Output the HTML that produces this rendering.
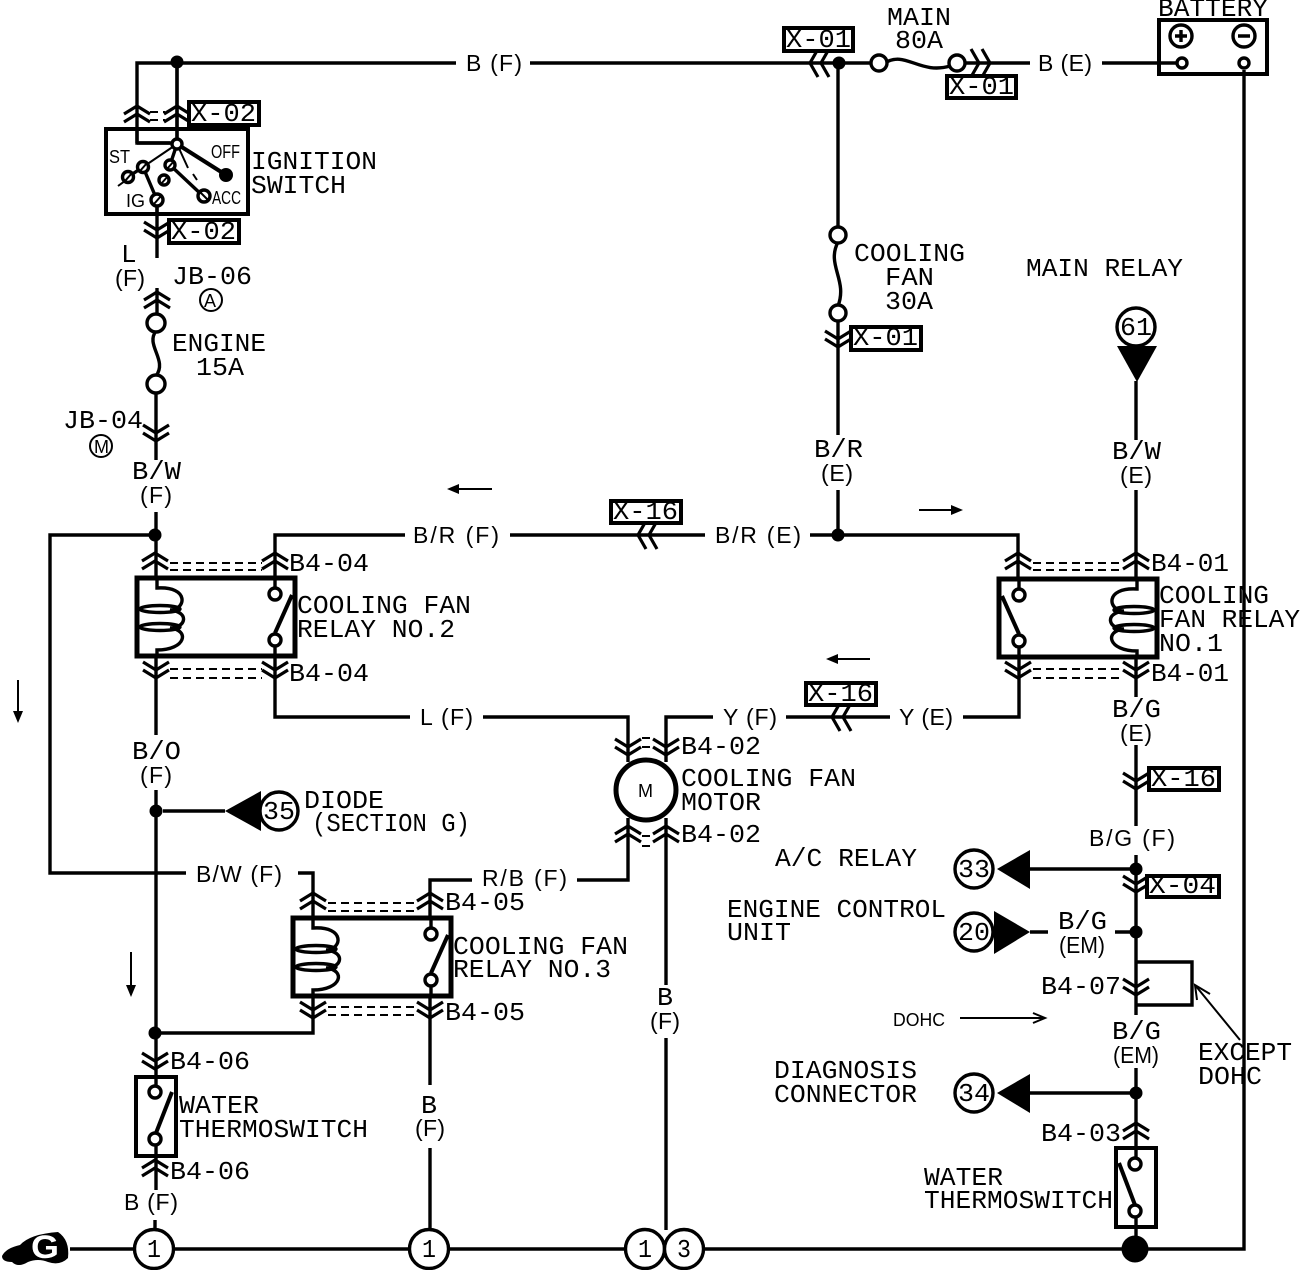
<!DOCTYPE html>
<html><head><meta charset="utf-8"><title>Cooling fan wiring diagram</title>
<style>
html,body{margin:0;padding:0;background:#fff;width:1312px;height:1270px;overflow:hidden}
svg{display:block}
text{font-family:"Liberation Mono",monospace;font-size:26px;fill:#000}
.s{font-family:"Liberation Sans",sans-serif;font-size:18px}
.p{font-family:"Liberation Sans",sans-serif;font-size:23px}
.w{fill:none;stroke:#000;stroke-width:3.4}
.t{fill:none;stroke:#000;stroke-width:2}
.c{fill:#fff;stroke:#000;stroke-width:3.4}
.d{fill:none;stroke:#000;stroke-width:2;stroke-dasharray:8 5}
</style></head><body>
<svg xmlns="http://www.w3.org/2000/svg" width="1312" height="1270" viewBox="0 0 1312 1270">
<defs>
<g id="up"><path d="M-13 4L0-4L13 4M-13 12L0 4L13 12" fill="none" stroke="#000" stroke-width="3.2"/></g>
<g id="dn"><path d="M-13-13L0-5L13-13M-13-5L0 3L13-5" fill="none" stroke="#000" stroke-width="3.2"/></g>
<g id="lf"><path d="M4-14L-4 0L4 14M15-14L7 0L15 14" fill="none" stroke="#000" stroke-width="3.2"/></g>
<g id="rt"><path d="M-4-14L4 0L-4 14M-15-14L-7 0L-15 14" fill="none" stroke="#000" stroke-width="3.2"/></g>
<g id="relay">
<rect x="137" y="578" width="158" height="78" fill="#fff" stroke="#000" stroke-width="5"/>
<path d="M157 578V588C190 586 186 610 170 610C190 612 186 628 170 628C190 630 186 650 157 650V656" class="w"/>
<ellipse cx="160" cy="609" rx="20" ry="3.5" class="w"/>
<ellipse cx="160" cy="627" rx="20" ry="3.5" class="w"/>
<path d="M275 578V588M275 646V656" class="w"/>
<path d="M275 633L292 595" fill="none" stroke="#000" stroke-width="4"/>
<circle cx="275" cy="594" r="6" class="c"/><circle cx="275" cy="640" r="6" class="c"/>
</g>
</defs>
<!-- wires -->
<path class="w" d="M137 143V63H456M530 63H875M177 63V143H137M1030 63H958M1102 63H1181M1244 70V1249H703M70 1249H135M174 1249H410M449 1249H626"/>
<path class="w" d="M157 200V258M157 288V315M156 393V460M156 512V578M156 656V735M156 790V1077M156 1156V1190M155 1220V1230"/>
<path class="w" d="M156 535H50V873H186M298 873H313V918M313 997V1033H156M163 811H225"/>
<path class="w" d="M838 63V228M838 320V435M838 490V535M275 578V535H405M510 535H705M810 535H1018V578"/>
<path class="w" d="M1136 381V440M1136 490V578M1136 657V697M1136 745V826M1136 855V1015M1136 1068V1249M1136 962H1192V1005H1136"/>
<path class="w" d="M275 656V717H410M483 717H628V762M666 762V717H713M786 717H890M963 717H1019V657"/>
<path class="w" d="M628 818V880H577M666 818V985M666 1038V1230M472 880H430V918M430 996V1085M430 1148V1230"/>
<path class="w" d="M1030 869H1136M1030 932H1048M1115 932H1136M1030 1093H1136"/>
<!-- fuse wavy -->
<path d="M885 63C905 50 920 75 950 66" class="w"/>
<path d="M838 242C826 265 848 280 838 306" class="w"/>
<path d="M156 331C145 345 168 360 156 376" class="w"/>
<circle cx="879" cy="63" r="8" class="c"/><circle cx="957" cy="63" r="8" class="c"/>
<circle cx="838" cy="235" r="8" class="c"/><circle cx="838" cy="313" r="8" class="c"/>
<circle cx="156" cy="323" r="9" class="c"/><circle cx="156" cy="384" r="9" class="c"/>
<!-- dots -->
<g fill="#000"><circle cx="177" cy="62" r="6.5"/><circle cx="839" cy="63" r="6.5"/><circle cx="838" cy="535" r="6.5"/><circle cx="155" cy="535" r="6.5"/><circle cx="156" cy="811" r="6.5"/><circle cx="155" cy="1033" r="6.5"/><circle cx="1136" cy="869" r="6.5"/><circle cx="1136" cy="932" r="6.5"/><circle cx="1136" cy="1093" r="6.5"/><circle cx="1135" cy="1249" r="13.5"/></g>
<!-- relays -->
<use href="#relay"/>
<use href="#relay" transform="translate(156,340)"/>
<use href="#relay" transform="translate(1294,1) scale(-1,1)"/>
<!-- ignition switch -->
<rect x="106" y="129" width="142" height="85" fill="none" stroke="#000" stroke-width="4"/>
<path class="w" d="M137 129V143H170M177 63V143M157 200V214"/>
<path d="M177 144L226 175" fill="none" stroke="#000" stroke-width="4"/>
<path class="t" d="M177 144L143 167M129 178L118 186M177 144L188 168M193 174L197 180"/>
<path class="w" d="M143 167L157 200M170 165L203 196M177 144L170 165M143 167L128 177"/>
<circle cx="177" cy="144" r="5" class="c"/><circle cx="226" cy="175" r="7" fill="#000"/>
<g class="c"><circle cx="143" cy="167" r="5.5"/><circle cx="128" cy="177" r="5.5"/><circle cx="170" cy="165" r="5"/><circle cx="164" cy="180" r="5"/><circle cx="157" cy="200" r="6"/><circle cx="204" cy="196" r="6"/></g>
<path class="t" d="M140 171L147 163M125 181L132 173M167 169L174 161M161 184L168 176M154 204L161 196M200 192L208 200"/>
<!-- water thermoswitches -->
<rect x="136" y="1077" width="40" height="79" fill="#fff" stroke="#000" stroke-width="4"/>
<path d="M156 1077V1088M156 1145V1156" class="w"/>
<path d="M156 1133L172 1092" fill="none" stroke="#000" stroke-width="4"/>
<circle cx="155" cy="1092" r="6" class="c"/><circle cx="155" cy="1139" r="6" class="c"/>
<rect x="1116" y="1148" width="40" height="79" fill="#fff" stroke="#000" stroke-width="4"/>
<path d="M1136 1148V1158M1136 1217V1227" class="w"/>
<path d="M1135 1205L1119 1163" fill="none" stroke="#000" stroke-width="4"/>
<circle cx="1135" cy="1164" r="6" class="c"/><circle cx="1135" cy="1211" r="6" class="c"/>
<!-- motor -->
<circle cx="646" cy="790" r="30" fill="#fff" stroke="#000" stroke-width="5"/>
<!-- battery -->
<rect x="1159" y="20" width="108" height="54" fill="none" stroke="#000" stroke-width="4"/>
<circle cx="1181" cy="36" r="11" class="c"/><circle cx="1244" cy="36" r="11" class="c"/>
<path d="M1175 36H1187M1181 30V42M1238 36H1250" class="w"/>
<circle cx="1182" cy="63" r="5" class="c"/><circle cx="1244" cy="63" r="5" class="c"/>
<!-- connectors -->
<use href="#up" x="137" y="110"/><use href="#up" x="177" y="110"/>
<use href="#dn" x="157" y="235"/><use href="#up" x="157" y="296"/>
<use href="#dn" x="156" y="438"/>
<use href="#up" x="155" y="557"/><use href="#up" x="275" y="557"/>
<use href="#dn" x="156" y="675"/><use href="#dn" x="275" y="675"/>
<use href="#up" x="1018" y="557"/><use href="#up" x="1136" y="557"/>
<use href="#dn" x="1018" y="675"/><use href="#dn" x="1136" y="675"/>
<use href="#dn" x="628" y="752"/><use href="#dn" x="666" y="752"/>
<use href="#up" x="628" y="830"/><use href="#up" x="666" y="830"/>
<use href="#up" x="313" y="897"/><use href="#up" x="430" y="897"/>
<use href="#dn" x="313" y="1015"/><use href="#dn" x="430" y="1015"/>
<use href="#dn" x="155" y="1066"/><use href="#up" x="155" y="1164"/>
<use href="#dn" x="838" y="344"/><use href="#dn" x="1136" y="786"/>
<use href="#dn" x="1136" y="889"/><use href="#dn" x="1136" y="992"/>
<use href="#up" x="1136" y="1127"/>
<use href="#lf" x="814" y="63"/><use href="#rt" x="986" y="63"/>
<use href="#lf" x="642" y="535"/><use href="#lf" x="836" y="717"/>
<!-- dashes -->
<path class="d" d="M150 112H165M150 120H165M170 563H262M170 570H262M170 669H262M170 678H262M1033 563H1122M1033 570H1122M1033 669H1122M1033 678H1122M642 738H652M642 747H652M642 836H652M642 846H652M328 903H416M328 911H416M328 1007H416M328 1015H416"/>
<!-- boxes with labels -->
<g fill="#fff" stroke="#000" stroke-width="4">
<rect x="784" y="28" width="69" height="23"/><rect x="947" y="76" width="69" height="22"/>
<rect x="189" y="102" width="70" height="23"/><rect x="169" y="220" width="70" height="23"/>
<rect x="851" y="327" width="70" height="23"/><rect x="611" y="501" width="70" height="22"/>
<rect x="806" y="683" width="70" height="22"/><rect x="1149" y="768" width="70" height="22"/>
<rect x="1147" y="876" width="72" height="21"/>
</g>
<!-- triangles and circles -->
<g fill="#000">
<path d="M1117 346H1157L1137 382Z"/><path d="M225 811L261 791V831Z"/>
<path d="M997 869L1030 850V889Z"/><path d="M994 911L1030 932L994 954Z"/><path d="M997 1093L1030 1074V1113Z"/>
</g>
<g class="c" stroke-width="3.4">
<circle cx="1136" cy="327" r="19"/><circle cx="279" cy="811" r="19"/><circle cx="974" cy="869" r="19"/><circle cx="974" cy="932" r="19"/><circle cx="974" cy="1093" r="19"/>
<circle cx="154" cy="1249" r="19.5"/><circle cx="429" cy="1249" r="19.5"/><circle cx="645" cy="1249" r="19.5"/><circle cx="684" cy="1249" r="19.5"/>
</g>
<circle cx="211" cy="300" r="11" class="t"/><circle cx="101" cy="446" r="11" class="t"/>
<!-- ground -->
<path d="M2 1256Q6 1248 20 1245Q30 1234 58 1232Q70 1240 68 1258Q60 1266 48 1262Q38 1258 28 1262Q18 1268 12 1262Q2 1262 2 1256Z" fill="#000"/>
<text x="31" y="1258" textLength="28" lengthAdjust="spacingAndGlyphs" style="font-family:'Liberation Sans',sans-serif;font-size:32px;fill:#fff;font-weight:bold">G</text>
<!-- arrows -->
<g class="t">
<path d="M450 489H492M919 510H960M829 659H870M18 680V720M131 952V994M960 1018H1043M1240 1040L1195 985"/>
</g>
<g fill="#000">
<path d="M447 489L459 484V494Z"/><path d="M963 510L951 505V515Z"/><path d="M826 659L838 654V664Z"/><path d="M18 723L13 711H23Z"/><path d="M131 997L126 985H136Z"/>
</g>
<path class="t" d="M1033 1013L1045 1018L1033 1023M1197 1000L1195 985L1210 994"/>
<!-- text -->
<text x="1158" y="16" textLength="110" lengthAdjust="spacingAndGlyphs">BATTERY</text>
<text x="887" y="25" textLength="64" lengthAdjust="spacingAndGlyphs">MAIN</text>
<text x="895" y="48" textLength="48" lengthAdjust="spacingAndGlyphs">80A</text>
<text class="p" x="466" y="71" textLength="56" lengthAdjust="spacing">B (F)</text>
<text x="786" y="47" textLength="65" lengthAdjust="spacingAndGlyphs">X-01</text>
<text class="p" x="1038" y="71" textLength="54" lengthAdjust="spacing">B (E)</text>
<text x="949" y="94" textLength="65" lengthAdjust="spacingAndGlyphs">X-01</text>
<text x="191" y="121" textLength="65" lengthAdjust="spacingAndGlyphs">X-02</text>
<text x="171" y="239" textLength="65" lengthAdjust="spacingAndGlyphs">X-02</text>
<text x="251" y="169" textLength="126" lengthAdjust="spacingAndGlyphs">IGNITION</text>
<text x="251" y="193" textLength="95" lengthAdjust="spacingAndGlyphs">SWITCH</text>
<text x="109" y="163" textLength="21" lengthAdjust="spacingAndGlyphs" class="s">ST</text>
<text x="211" y="158" textLength="29" lengthAdjust="spacingAndGlyphs" class="s">OFF</text>
<text x="212" y="204" textLength="29" lengthAdjust="spacingAndGlyphs" class="s">ACC</text>
<text x="126" y="207" textLength="19" lengthAdjust="spacingAndGlyphs" class="s">IG</text>
<text x="121" y="262">L</text><text class="p" x="115" y="286" textLength="30" lengthAdjust="spacing">(F)</text>
<text x="172" y="284" textLength="80" lengthAdjust="spacingAndGlyphs">JB-06</text>
<text x="204" y="307" class="s">A</text><text x="94" y="453" class="s">M</text>
<text x="172" y="351" textLength="94" lengthAdjust="spacingAndGlyphs">ENGINE</text>
<text x="196" y="375" textLength="48" lengthAdjust="spacingAndGlyphs">15A</text>
<text x="63" y="428" textLength="80" lengthAdjust="spacingAndGlyphs">JB-04</text>
<text x="132" y="479" textLength="49" lengthAdjust="spacingAndGlyphs">B/W</text>
<text class="p" x="140" y="503" textLength="32" lengthAdjust="spacing">(F)</text>
<text class="p" x="413" y="543" textLength="86" lengthAdjust="spacing">B/R (F)</text>
<text x="613" y="519" textLength="65" lengthAdjust="spacingAndGlyphs">X-16</text>
<text class="p" x="715" y="543" textLength="86" lengthAdjust="spacing">B/R (E)</text>
<text x="814" y="457" textLength="49" lengthAdjust="spacingAndGlyphs">B/R</text>
<text class="p" x="821" y="481" textLength="32" lengthAdjust="spacing">(E)</text>
<text x="854" y="261" textLength="111" lengthAdjust="spacingAndGlyphs">COOLING</text>
<text x="885" y="285" textLength="49" lengthAdjust="spacingAndGlyphs">FAN</text>
<text x="885" y="309" textLength="48" lengthAdjust="spacingAndGlyphs">30A</text>
<text x="853" y="345" textLength="65" lengthAdjust="spacingAndGlyphs">X-01</text>
<text x="1026" y="276" textLength="157" lengthAdjust="spacingAndGlyphs">MAIN RELAY</text>
<text x="1120" y="335" textLength="32" lengthAdjust="spacingAndGlyphs">61</text>
<text x="1112" y="459" textLength="49" lengthAdjust="spacingAndGlyphs">B/W</text>
<text class="p" x="1120" y="483" textLength="32" lengthAdjust="spacing">(E)</text>
<text x="289" y="571" textLength="80" lengthAdjust="spacingAndGlyphs">B4-04</text>
<text x="1151" y="571" textLength="78" lengthAdjust="spacingAndGlyphs">B4-01</text>
<text x="297" y="613" textLength="174" lengthAdjust="spacingAndGlyphs">COOLING FAN</text>
<text x="297" y="637" textLength="158" lengthAdjust="spacingAndGlyphs">RELAY NO.2</text>
<text x="1159" y="603" textLength="110" lengthAdjust="spacingAndGlyphs">COOLING</text>
<text x="1159" y="627" textLength="141" lengthAdjust="spacingAndGlyphs">FAN RELAY</text>
<text x="1159" y="651" textLength="64" lengthAdjust="spacingAndGlyphs">NO.1</text>
<text x="289" y="681" textLength="80" lengthAdjust="spacingAndGlyphs">B4-04</text>
<text x="1151" y="681" textLength="78" lengthAdjust="spacingAndGlyphs">B4-01</text>
<text x="1112" y="717" textLength="49" lengthAdjust="spacingAndGlyphs">B/G</text>
<text class="p" x="1120" y="741" textLength="32" lengthAdjust="spacing">(E)</text>
<text x="1151" y="786" textLength="65" lengthAdjust="spacingAndGlyphs">X-16</text>
<text class="p" x="420" y="725" textLength="53" lengthAdjust="spacing">L (F)</text>
<text class="p" x="723" y="725" textLength="54" lengthAdjust="spacing">Y (F)</text>
<text x="808" y="701" textLength="65" lengthAdjust="spacingAndGlyphs">X-16</text>
<text class="p" x="899" y="725" textLength="54" lengthAdjust="spacing">Y (E)</text>
<text x="681" y="754" textLength="80" lengthAdjust="spacingAndGlyphs">B4-02</text>
<text x="681" y="842" textLength="80" lengthAdjust="spacingAndGlyphs">B4-02</text>
<text x="681" y="786" textLength="175" lengthAdjust="spacingAndGlyphs">COOLING FAN</text>
<text x="681" y="810" textLength="80" lengthAdjust="spacingAndGlyphs">MOTOR</text>
<text x="638" y="797" class="s">M</text>
<text x="132" y="759" textLength="49" lengthAdjust="spacingAndGlyphs">B/O</text>
<text class="p" x="140" y="783" textLength="32" lengthAdjust="spacing">(F)</text>
<text x="263" y="819" textLength="32" lengthAdjust="spacingAndGlyphs">35</text>
<text x="304" y="808" textLength="80" lengthAdjust="spacingAndGlyphs">DIODE</text>
<text x="312" y="831" textLength="158" lengthAdjust="spacingAndGlyphs">(SECTION G)</text>
<text class="p" x="196" y="882" textLength="86" lengthAdjust="spacing">B/W (F)</text>
<text class="p" x="482" y="886" textLength="85" lengthAdjust="spacing">R/B (F)</text>
<text x="445" y="910" textLength="80" lengthAdjust="spacingAndGlyphs">B4-05</text>
<text x="445" y="1020" textLength="80" lengthAdjust="spacingAndGlyphs">B4-05</text>
<text x="453" y="954" textLength="175" lengthAdjust="spacingAndGlyphs">COOLING FAN</text>
<text x="453" y="977" textLength="158" lengthAdjust="spacingAndGlyphs">RELAY NO.3</text>
<text class="p" x="1089" y="846" textLength="86" lengthAdjust="spacing">B/G (F)</text>
<text x="775" y="866" textLength="142" lengthAdjust="spacingAndGlyphs">A/C RELAY</text>
<text x="958" y="877" textLength="32" lengthAdjust="spacingAndGlyphs">33</text>
<text x="958" y="940" textLength="32" lengthAdjust="spacingAndGlyphs">20</text>
<text x="958" y="1101" textLength="32" lengthAdjust="spacingAndGlyphs">34</text>
<text x="1149" y="893" textLength="67" lengthAdjust="spacingAndGlyphs">X-04</text>
<text x="727" y="917" textLength="219" lengthAdjust="spacingAndGlyphs">ENGINE CONTROL</text>
<text x="727" y="940" textLength="64" lengthAdjust="spacingAndGlyphs">UNIT</text>
<text x="1058" y="929" textLength="49" lengthAdjust="spacingAndGlyphs">B/G</text>
<text class="p" x="1059" y="953" textLength="46" lengthAdjust="spacingAndGlyphs">(EM)</text>
<text x="1041" y="994" textLength="80" lengthAdjust="spacingAndGlyphs">B4-07</text>
<text x="893" y="1026" textLength="52" lengthAdjust="spacingAndGlyphs" class="s">DOHC</text>
<text x="1112" y="1039" textLength="49" lengthAdjust="spacingAndGlyphs">B/G</text>
<text class="p" x="1113" y="1063" textLength="46" lengthAdjust="spacingAndGlyphs">(EM)</text>
<text x="1198" y="1060" textLength="94" lengthAdjust="spacingAndGlyphs">EXCEPT</text>
<text x="1198" y="1084" textLength="64" lengthAdjust="spacingAndGlyphs">DOHC</text>
<text x="774" y="1078" textLength="143" lengthAdjust="spacingAndGlyphs">DIAGNOSIS</text>
<text x="774" y="1102" textLength="143" lengthAdjust="spacingAndGlyphs">CONNECTOR</text>
<text x="1041" y="1141" textLength="80" lengthAdjust="spacingAndGlyphs">B4-03</text>
<text x="924" y="1185" textLength="79" lengthAdjust="spacingAndGlyphs">WATER</text>
<text x="924" y="1208" textLength="189" lengthAdjust="spacingAndGlyphs">THERMOSWITCH</text>
<text x="170" y="1069" textLength="80" lengthAdjust="spacingAndGlyphs">B4-06</text>
<text x="170" y="1179" textLength="80" lengthAdjust="spacingAndGlyphs">B4-06</text>
<text x="179" y="1113" textLength="80" lengthAdjust="spacingAndGlyphs">WATER</text>
<text x="179" y="1137" textLength="189" lengthAdjust="spacingAndGlyphs">THERMOSWITCH</text>
<text x="657" y="1005" textLength="16" lengthAdjust="spacingAndGlyphs">B</text>
<text class="p" x="650" y="1029" textLength="30" lengthAdjust="spacing">(F)</text>
<text x="421" y="1113" textLength="16" lengthAdjust="spacingAndGlyphs">B</text>
<text class="p" x="415" y="1136" textLength="30" lengthAdjust="spacing">(F)</text>
<text class="p" x="124" y="1210" textLength="54" lengthAdjust="spacing">B (F)</text>
<text x="147" y="1257" textLength="14" lengthAdjust="spacingAndGlyphs">1</text>
<text x="422" y="1257" textLength="14" lengthAdjust="spacingAndGlyphs">1</text>
<text x="638" y="1257" textLength="14" lengthAdjust="spacingAndGlyphs">1</text>
<text x="677" y="1257" textLength="14" lengthAdjust="spacingAndGlyphs">3</text>
</svg>
</body></html>
